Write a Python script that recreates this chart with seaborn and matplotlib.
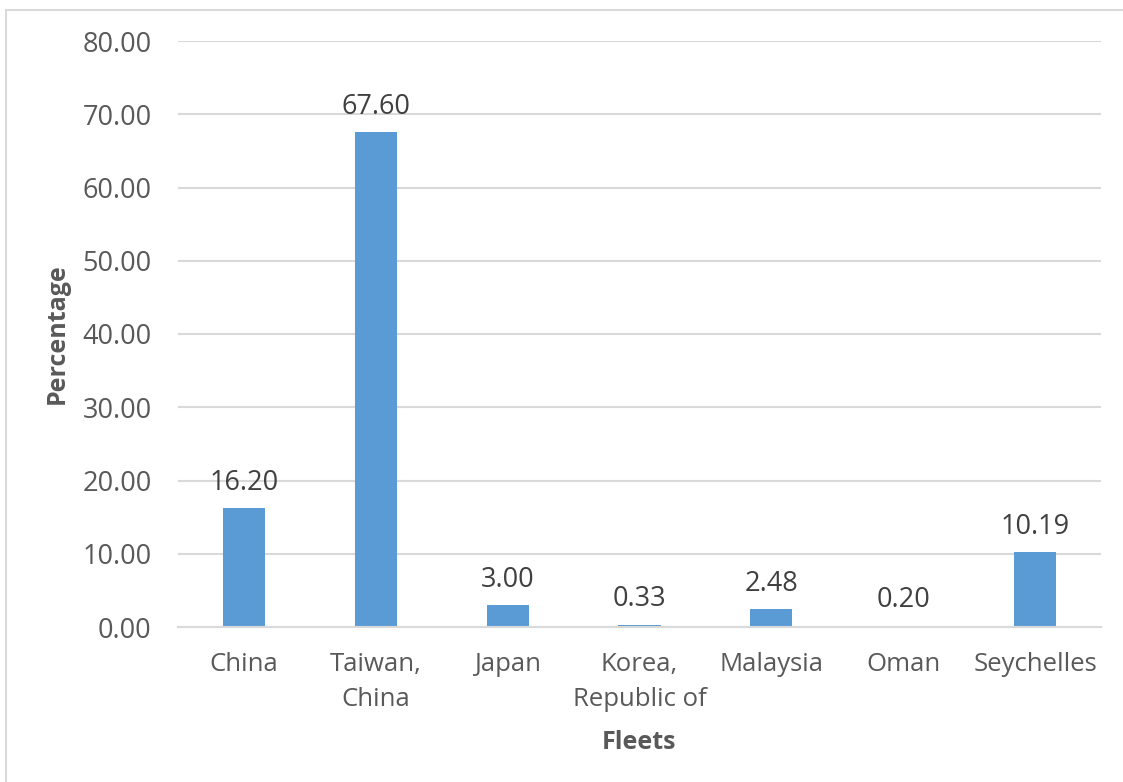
import matplotlib
matplotlib.use("Agg")
import matplotlib.pyplot as plt
import seaborn as sns
import pandas as pd
from matplotlib.patches import Rectangle

# Share of catch by fleet
fleets = ["China", "Taiwan,\nChina", "Japan", "Korea,\nRepublic of",
          "Malaysia", "Oman", "Seychelles"]
percentages = [16.20, 67.60, 3.00, 0.33, 2.48, 0.20, 10.19]
y_ticks = [0, 10, 20, 30, 40, 50, 60, 70, 80]

sns.set_theme(style="white")
plt.rcParams["font.family"] = ["Open Sans", "DejaVu Sans"]

BAR = "#5B9BD5"
TXT = "#595959"
LBL = "#404040"
GRID = "#D9D9D9"
FS = 19.5

df = pd.DataFrame({"Fleet": fleets, "Percentage": percentages})

fig = plt.figure(figsize=(11.23, 7.82), dpi=100)
ax = fig.add_axes([178 / 1123, 1 - 627 / 782, (1101 - 178) / 1123, (627 - 41) / 782])

sns.barplot(data=df, x="Fleet", y="Percentage", color=BAR, saturation=1,
            width=0.32, ax=ax, zorder=3, linewidth=0)

ax.set_ylim(0, 80)
ax.set_xlim(-0.5, len(fleets) - 0.5)
ax.set_yticks(y_ticks)
ax.set_yticklabels([f"{v:.2f}" for v in y_ticks])

ax.yaxis.grid(True, color=GRID, linewidth=1.5, zorder=0)
ax.xaxis.grid(False)
for side in ["top", "right", "left"]:
    ax.spines[side].set_visible(False)
ax.spines["bottom"].set_color(GRID)
ax.spines["bottom"].set_linewidth(1.5)
ax.spines["bottom"].set_zorder(4)

ax.tick_params(axis="y", length=0, pad=19, labelsize=FS, labelcolor=TXT)
ax.tick_params(axis="x", length=0, pad=18, labelsize=18.5, labelcolor=TXT)
for t in ax.get_xticklabels():
    t.set_linespacing(1.5)

for c in ax.containers:
    ax.bar_label(c, labels=[f"{v:.2f}" for v in percentages], padding=8,
                 fontsize=FS, color=LBL)

ax.set_xlabel("Fleets", fontsize=18, fontweight="bold", color=TXT, labelpad=13)
ax.set_ylabel("Percentage", fontsize=18, fontweight="bold", color=TXT, labelpad=9)

# light frame around the chart area
fig.patches.append(Rectangle((6 / 1123, -0.1), 1.2, 1.1 - 9.5 / 782,
                             transform=fig.transFigure, fill=False,
                             edgecolor=GRID, linewidth=1.5, zorder=0))

fig.savefig("out.png", dpi=100)
